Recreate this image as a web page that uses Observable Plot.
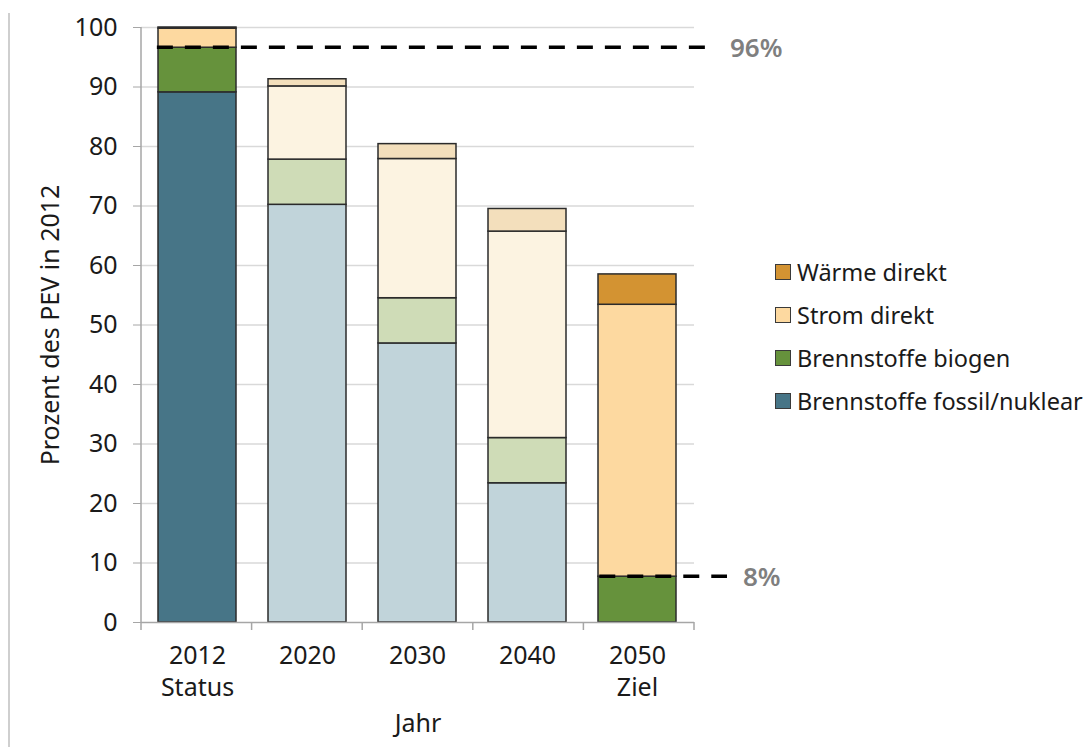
<!DOCTYPE html>
<html><head><meta charset="utf-8">
<script src="https://cdn.jsdelivr.net/npm/d3@7"></script>
<script src="https://cdn.jsdelivr.net/npm/@observablehq/plot@0.6"></script>
<style>
body{margin:0;background:#fff;font-family:"Noto Sans",sans-serif;}
#wrap{position:relative;width:1091px;height:747px;overflow:hidden}
#border{position:absolute;left:8px;top:13px;width:2px;height:734px;background:#cfcfcf}
#chart{position:absolute;left:0;top:0}
#legend{position:absolute;left:775px;top:250px;}
.item{display:flex;align-items:center;height:43px;font-size:23.5px;color:#1a1a1a;white-space:nowrap}
.sw{width:16px;height:16px;border:1px solid #3a3a3a;margin-right:6px;box-sizing:border-box}
</style></head><body>
<div id="wrap"><div id="border"></div><div id="chart"></div><div id="legend"></div></div>
<script>
const years = ["2012","2020","2030","2040","2050"];
const yearLabels = ["2012\nStatus","2020","2030","2040","2050\nZiel"];
const series = ["Brennstoffe fossil/nuklear","Brennstoffe biogen","Strom direkt","Wärme direkt"];
const fossil = [89.1, 70.2, 46.9, 23.4, 0];
const biogen = [7.5, 7.6, 7.6, 7.6, 7.7];
const strom  = [3.2, 12.3, 23.4, 34.7, 45.7];
const waerme = [0.2, 1.2, 2.5, 3.8, 5.1];
const fullColors  = ["#477587","#66923c","#fdd9a0","#d39332"];
const fadedColors = ["#c1d4da","#cfdcb7","#fcf3e1","#f3dfbc"];
const fadedYears = ["2020","2030","2040"];
const targetValues = [96.6, 7.7];
const targetYears = ["2012","2050"];
const targetLabels = ["96%","8%"];
const yTicks = [0,10,20,30,40,50,60,70,80,90,100];

const seriesValues = [fossil, biogen, strom, waerme];
const data = [];
years.forEach((yr, i) => {
  seriesValues.forEach((arr, j) => {
    if (arr[i] > 0) data.push({
      year: yr, series: series[j], value: arr[i],
      color: (fadedYears.includes(yr) ? fadedColors : fullColors)[j]
    });
  });
});

const plot = Plot.plot({
  width: 1091, height: 747,
  marginLeft: 141, marginRight: 397, marginTop: 27, marginBottom: 125,
  style: {fontFamily: '"Noto Sans", sans-serif', fontSize: "25px", color: "#1a1a1a", background: "transparent", overflow: "visible"},
  x: {domain: years, paddingInner: 0.287, paddingOuter: 0.1435, axis: null, label: null},
  y: {domain: [0, 100], axis: null, label: null},
  color: {type: "identity"},
  marks: [
    Plot.gridY(yTicks.filter(d => d > 0), {stroke: "#d9d9d9", strokeOpacity: 1, strokeWidth: 1.5}),
    Plot.axisY(yTicks, {tickSize: 8, tickPadding: 16, stroke: "#a6a6a6", fill: "#1a1a1a", label: null}),
    Plot.barY(data, {x: "year", y: "value", fill: "color", stroke: "#2b2b2b", strokeWidth: 1.5}),
    Plot.ruleY([0], {stroke: "#a6a6a6", strokeWidth: 1.5}),
    Plot.text(years, {x: d => d, text: d => yearLabels[years.indexOf(d)], frameAnchor: "bottom", dy: 18, lineAnchor: "top", lineHeight: 1.3, fill: "#1a1a1a"}),
    Plot.text(["Jahr"], {text: d => d, frameAnchor: "bottom", dy: 92, lineAnchor: "top", fill: "#1a1a1a"}),
    Plot.text(["Prozent des PEV in 2012"], {text: d => d, frameAnchor: "left", textAnchor: "middle", dx: -91, rotate: -90, fill: "#1a1a1a"})
  ]
});
document.getElementById("chart").appendChild(plot);

// scales from the plot
const xs = plot.scale("x"), ys = plot.scale("y");
const x = d3.scaleBand().domain(xs.domain).range(xs.range)
  .paddingInner(xs.paddingInner).paddingOuter(xs.paddingOuter).align(xs.align ?? 0.5);
const y = d3.scaleLinear(ys.domain, ys.range);
const svg = d3.select(plot);
const gap = (x.step() - x.bandwidth()) / 2;
const [r0, r1] = x.range();

// y axis line
svg.append("line").attr("x1", r0).attr("x2", r0).attr("y1", y(100)).attr("y2", y(0))
  .attr("stroke", "#a6a6a6").attr("stroke-width", 1.5);
// category boundary ticks
const bounds = years.map(d => x(d) - gap).concat([x(years[years.length - 1]) + x.bandwidth() + gap]);
svg.append("g").selectAll("line").data(bounds).join("line")
  .attr("x1", d => d).attr("x2", d => d).attr("y1", y(0)).attr("y2", y(0) + 8)
  .attr("stroke", "#a6a6a6").attr("stroke-width", 1.5);

// target dashed lines + labels
const ends = [r1 + 20, r1 + 33];
targetValues.forEach((v, i) => {
  svg.append("line").attr("x1", x(targetYears[i])).attr("x2", ends[i])
    .attr("y1", y(v)).attr("y2", y(v))
    .attr("stroke", "#000").attr("stroke-width", 3.5).attr("stroke-dasharray", "16,12");
  svg.append("text").attr("x", ends[i] + 16).attr("y", y(v)).attr("dy", "0.36em")
    .attr("text-anchor", "start")
    .attr("fill", "#7f7f7f").attr("font-size", 26).attr("font-weight", 600)
    .attr("font-family", '"Noto Sans", sans-serif')
    .text(targetLabels[i]);
});

// legend
const legend = d3.select("#legend");
series.slice().reverse().forEach(s => {
  const j = series.indexOf(s);
  const item = legend.append("div").attr("class", "item");
  item.append("div").attr("class", "sw").style("background", fullColors[j]);
  item.append("span").text(s);
});
</script>
</body></html>
